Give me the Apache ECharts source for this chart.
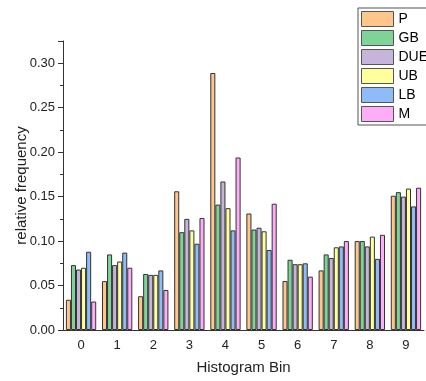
<!DOCTYPE html>
<html>
<head>
<meta charset="utf-8">
<script src="https://cdn.jsdelivr.net/npm/echarts@6/dist/echarts.min.js"></script>
<style>
  html, body { margin: 0; padding: 0; background: #fff; }
  #viz { width: 426px; height: 381px; }
</style>
</head>
<body>
<div id="viz"></div>
<script>
var bins = ['0', '1', '2', '3', '4', '5', '6', '7', '8', '9'];
var seriesNames = ['P', 'GB', 'DUE', 'UB', 'LB', 'M'];
var colors = ['#ffc68c', '#7ed396', '#c7b4da', '#ffff9c', '#8fbcf8', '#ffadf7'];

var P   = [0.034, 0.055, 0.038, 0.156, 0.289, 0.131, 0.055, 0.067, 0.100, 0.151];
var GB  = [0.073, 0.085, 0.063, 0.110, 0.141, 0.113, 0.079, 0.085, 0.100, 0.155];
var DUE = [0.068, 0.073, 0.062, 0.125, 0.167, 0.115, 0.074, 0.081, 0.094, 0.150];
var UB  = [0.070, 0.077, 0.062, 0.112, 0.137, 0.111, 0.074, 0.093, 0.105, 0.159];
var LB  = [0.088, 0.087, 0.067, 0.097, 0.112, 0.090, 0.075, 0.094, 0.080, 0.139];
var M   = [0.032, 0.070, 0.045, 0.126, 0.194, 0.142, 0.060, 0.100, 0.107, 0.160];
var values = [P, GB, DUE, UB, LB, M];

var yTicks = ['0.00', '0.05', '0.10', '0.15', '0.20', '0.25', '0.30'];

var myChart = echarts.init(document.getElementById('viz'));

myChart.setOption({
    animation: false,
    textStyle: { fontFamily: 'Liberation Sans' },
    grid: { left: 63, right: 2, top: 41, bottom: 51 },
    legend: {
        orient: 'vertical',
        left: 358,
        top: 8,
        icon: 'rect',
        itemWidth: 32,
        itemHeight: 15,
        itemGap: 3,
        padding: [3, 20, 3, 3],
        borderColor: '#555',
        borderWidth: 1,
        backgroundColor: '#fff',
        itemStyle: { borderColor: '#555', borderWidth: 1 },
        textStyle: { fontSize: 14, color: '#000' },
        data: seriesNames
    },
    xAxis: [{
        type: 'category',
        data: bins,
        name: 'Histogram Bin',
        nameLocation: 'middle',
        nameGap: 30,
        nameTextStyle: { fontSize: 15, color: '#222' },
        axisLine: { lineStyle: { color: '#333', width: 1 } },
        axisTick: { alignWithLabel: true, length: 5, lineStyle: { color: '#333' } },
        axisLabel: { fontSize: 13, color: '#222', margin: 9 }
    }, {
        type: 'category',
        data: bins,
        position: 'bottom',
        axisLine: { show: false },
        axisTick: { length: 3, lineStyle: { color: '#333' } },
        axisLabel: { show: false }
    }],
    yAxis: {
        type: 'value',
        min: 0,
        max: 0.325,
        interval: 0.05,
        name: 'relative frequency',
        nameLocation: 'middle',
        nameGap: 34,
        nameMoveOverlap: false,
        nameTextStyle: { fontSize: 15, color: '#222' },
        axisLine: { show: true, lineStyle: { color: '#333', width: 1 } },
        axisTick: { show: true, length: 5, lineStyle: { color: '#333' } },
        minorTick: { show: true, splitNumber: 2, length: 3, lineStyle: { color: '#333' } },
        splitLine: { show: false },
        axisLabel: {
            fontSize: 13,
            color: '#222',
            margin: 8,
            formatter: function (v) {
                var i = Math.round(v / 0.05);
                return Math.abs(v - i * 0.05) < 1e-9 ? yTicks[i] : '';
            }
        }
    },
    series: seriesNames.map(function (name, i) {
        return {
            name: name,
            type: 'bar',
            data: values[i],
            barGap: '0%',
            barCategoryGap: '16%',
            itemStyle: { color: colors[i], borderColor: '#333', borderWidth: 1 }
        };
    })
});
</script>
</body>
</html>
